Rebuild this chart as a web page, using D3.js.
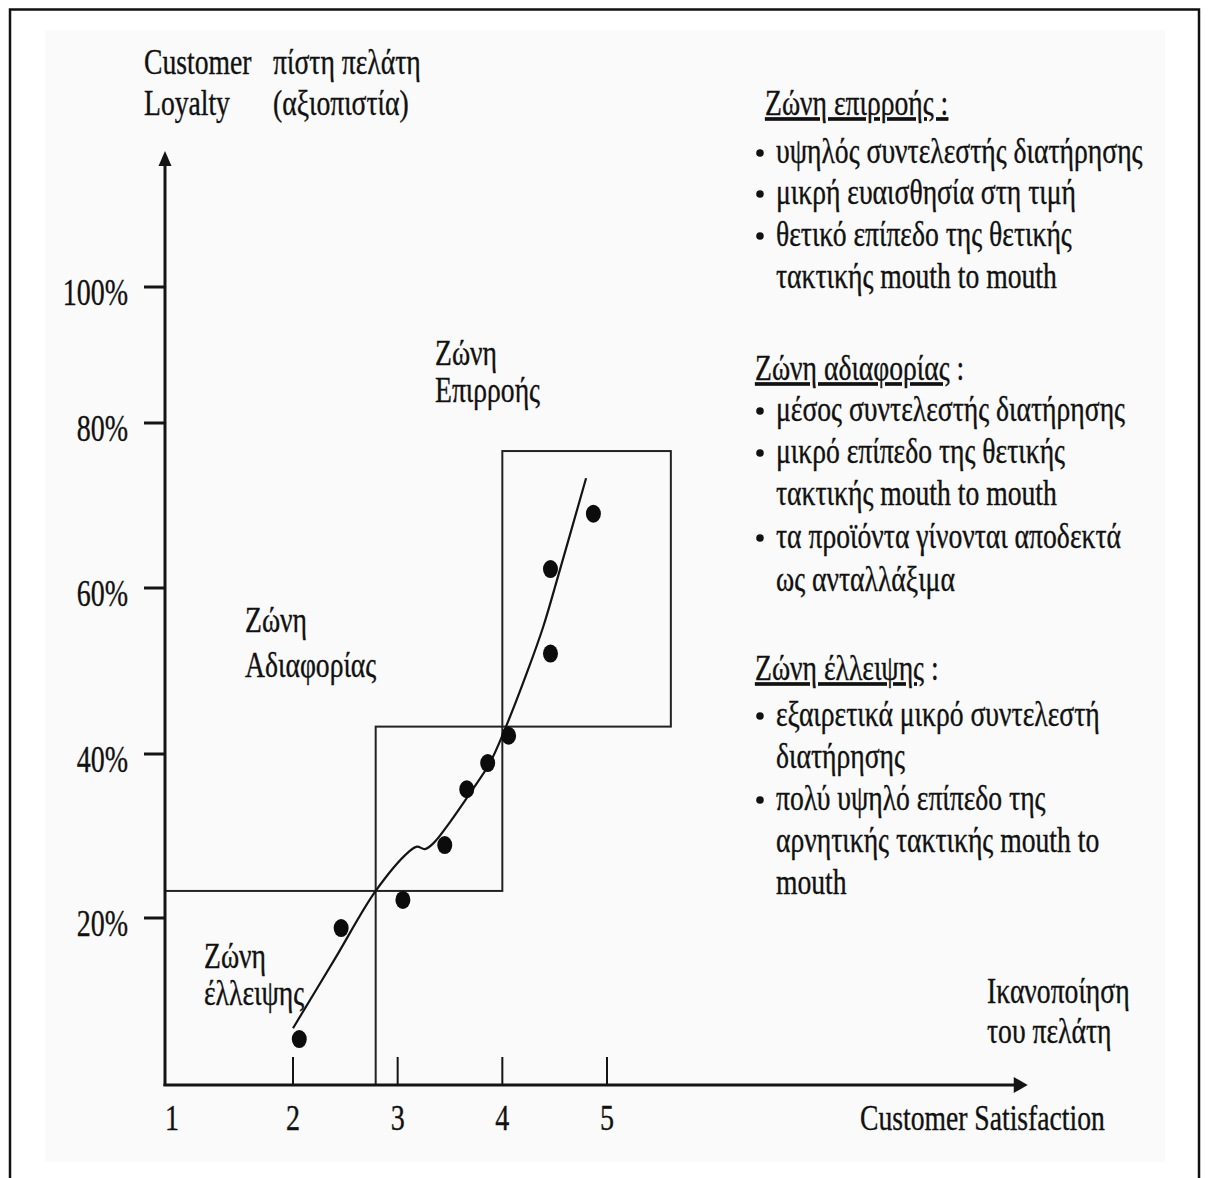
<!DOCTYPE html>
<html><head><meta charset="utf-8">
<script src="https://cdn.jsdelivr.net/npm/d3@7"></script>
<style>
body{margin:0;background:#fff}
text{font-family:"Liberation Serif","Times New Roman",serif;fill:#111;stroke:#111;stroke-width:0.35px}
</style>
</head><body>
<svg id="c" width="1208" height="1178"></svg>
<script>
// ---------- data ----------
const xTicks = [1, 2, 3, 4, 5];
const yTicks = [20, 40, 60, 80, 100];
const yTickLabels = ["20%", "40%", "60%", "80%", "100%"];
const satisfaction = [2.06, 2.46, 3.05, 3.45, 3.66, 3.86, 4.06, 4.46, 4.46, 4.87];
const loyalty      = [5.5, 18.8, 22.2, 28.9, 35.7, 38.9, 42.2, 52.1, 62.3, 69.0];
const trendX = [2.0, 2.40, 2.79, 3.10, 3.185, 3.26, 3.34, 3.50, 3.69, 3.88, 4.035, 4.235, 4.39, 4.55, 4.80];
const trendY = [6.8, 15.1, 23.3, 28.0, 28.7, 28.4, 29.1, 31.7, 35.2, 38.9, 43.3, 49.8, 55.3, 62.2, 73.3];
const zoneNames = ["Ζώνη έλλειψης", "Ζώνη αδιαφορίας", "Ζώνη επιρροής"];
const zoneX0 = [1, 2.79, 4.0];
const zoneX1 = [2.79, 4.0, 5.61];
const zoneY0 = [0, 23.3, 43.3];
const zoneY1 = [23.3, 43.3, 76.6];
const xAxisEnd = 9.02, yAxisEnd = 120;

const yTitle = [["Customer", "πίστη πελάτη"], ["Loyalty", "(αξιοπιστία)"]];
const xTitle = "Customer Satisfaction";
const xTitleGr = ["Ικανοποίηση", "του πελάτη"];
const zoneLabels = [["Ζώνη", "έλλειψης"], ["Ζώνη", "Αδιαφορίας"], ["Ζώνη", "Επιρροής"]];
const notes = [
  {head: "Ζώνη επιρροής", colonUnderlined: true, items: [
    ["υψηλός συντελεστής διατήρησης"],
    ["μικρή ευαισθησία στη τιμή"],
    ["θετικό επίπεδο της θετικής", "τακτικής mouth to mouth"]]},
  {head: "Ζώνη αδιαφορίας", colonUnderlined: false, items: [
    ["μέσος συντελεστής διατήρησης"],
    ["μικρό επίπεδο της θετικής", "τακτικής mouth to mouth"],
    ["τα προϊόντα γίνονται αποδεκτά", "ως ανταλλάξιμα"]]},
  {head: "Ζώνη έλλειψης", colonUnderlined: false, items: [
    ["εξαιρετικά μικρό συντελεστή", "διατήρησης"],
    ["πολύ υψηλό επίπεδο της", "αρνητικής τακτικής mouth to", "mouth"]]}
];

// ---------- layout ----------
const svg = d3.select("#c");
const ink = "#141414";
const x = d3.scaleLinear().domain([1, 2, 5]).range([165, 293, 607]);
const y = d3.scaleLinear().domain([0, 20, 40, 60, 80, 100]).range([1085, 918, 754, 588, 423, 287]);

// page frame + faint scan background
svg.append("rect").attr("x", 45).attr("y", 30).attr("width", 1120).attr("height", 1132).attr("fill", "#fafafa");
svg.append("path").attr("d", "M10,1178 V9.5 H1199 V1178").attr("fill", "none").attr("stroke", "#111").attr("stroke-width", 2.5);

function T(px, py, s, o = {}) {
  const size = o.size || 35, sx = o.sx || 0.79;
  return svg.append("text")
    .attr("transform", `translate(${px},${py}) scale(${sx},1)`)
    .attr("font-size", size)
    .attr("text-anchor", o.anchor || "start")
    .text(s);
}

// zones
const zg = svg.append("g").attr("fill", "none").attr("stroke", "#222").attr("stroke-width", 2);
zoneNames.forEach((n, i) => {
  zg.append("rect")
    .attr("x", x(zoneX0[i])).attr("y", y(zoneY1[i]))
    .attr("width", x(zoneX1[i]) - x(zoneX0[i]))
    .attr("height", y(zoneY0[i]) - y(zoneY1[i]));
});

// axes
const X0 = x(1), Y0 = y(0);
svg.append("line").attr("x1", X0).attr("y1", Y0 + 1).attr("x2", X0).attr("y2", y(yAxisEnd) + 12)
  .attr("stroke", ink).attr("stroke-width", 3);
svg.append("path").attr("fill", ink)
  .attr("d", `M${X0},${y(yAxisEnd)} L${X0 - 6.5},${y(yAxisEnd) + 15} L${X0 + 6.5},${y(yAxisEnd) + 15}Z`);
svg.append("line").attr("x1", X0 - 1.5).attr("y1", Y0).attr("x2", x(xAxisEnd) - 12).attr("y2", Y0)
  .attr("stroke", ink).attr("stroke-width", 3);
svg.append("path").attr("fill", ink)
  .attr("d", `M${x(xAxisEnd)},${Y0} L${x(xAxisEnd) - 14},${Y0 - 8} L${x(xAxisEnd) - 14},${Y0 + 8}Z`);

// y ticks
yTicks.forEach((v, i) => {
  svg.append("line").attr("x1", X0 - 21).attr("x2", X0).attr("y1", y(v)).attr("y2", y(v))
    .attr("stroke", ink).attr("stroke-width", 3);
  T(X0 - 37, y(v) + 18, yTickLabels[i], {size: 37, sx: 0.757, anchor: "end"});
});
// x ticks
xTicks.forEach(v => {
  if (v > 1) svg.append("line").attr("x1", x(v)).attr("x2", x(v)).attr("y1", Y0 - 28).attr("y2", Y0)
    .attr("stroke", ink).attr("stroke-width", 2);
  T(x(v) + (v === 1 ? 7 : 0), 1130, String(v), {size: 36, sx: 0.78, anchor: "middle"});
});

// trend curve
const line = d3.line().x(d => x(d[0])).y(d => y(d[1])).curve(d3.curveCatmullRom.alpha(0.5));
svg.append("path").datum(trendX.map((v, i) => [v, trendY[i]]))
  .attr("d", line).attr("fill", "none").attr("stroke", ink).attr("stroke-width", 2.2);

// points
svg.append("g").selectAll("ellipse").data(satisfaction.map((v, i) => [v, loyalty[i]])).join("ellipse")
  .attr("cx", d => x(d[0])).attr("cy", d => y(d[1])).attr("rx", 7.5).attr("ry", 9).attr("fill", "#0c0c0c");

// titles
T(144, 74, yTitle[0][0]); T(273, 74, yTitle[0][1]);
T(144, 115, yTitle[1][0]); T(273, 115, yTitle[1][1]);
T(860, 1130, xTitle);
T(987, 1003, xTitleGr[0]); T(987, 1043, xTitleGr[1]);

// zone labels
const zl = [[204, 968, 1005], [245, 632, 677], [435, 365, 402]];
zoneLabels.forEach((l, i) => { T(zl[i][0], zl[i][1], l[0]); T(zl[i][0], zl[i][2], l[1]); });

// notes on the right
const noteLayout = [
  {hx: 765, hy: 115, lines: [163, 204, 246, 288]},
  {hx: 755, hy: 380, lines: [421, 463, 505, 548, 591]},
  {hx: 755, hy: 680, lines: [726, 768, 810, 852, 894]}
];
notes.forEach((n, i) => {
  const L = noteLayout[i];
  const t = T(L.hx, L.hy, "");
  if (n.colonUnderlined) {
    t.append("tspan").attr("text-decoration", "underline").text(n.head + " :");
  } else {
    t.append("tspan").attr("text-decoration", "underline").text(n.head);
    t.append("tspan").text(" :");
  }
  let k = 0;
  n.items.forEach(item => {
    item.forEach((s, j) => {
      const ly = L.lines[k++];
      if (j === 0) svg.append("circle").attr("cx", 760).attr("cy", ly - 10).attr("r", 3.8).attr("fill", "#111");
      T(776, ly, s);
    });
  });
});
</script>
</body></html>
